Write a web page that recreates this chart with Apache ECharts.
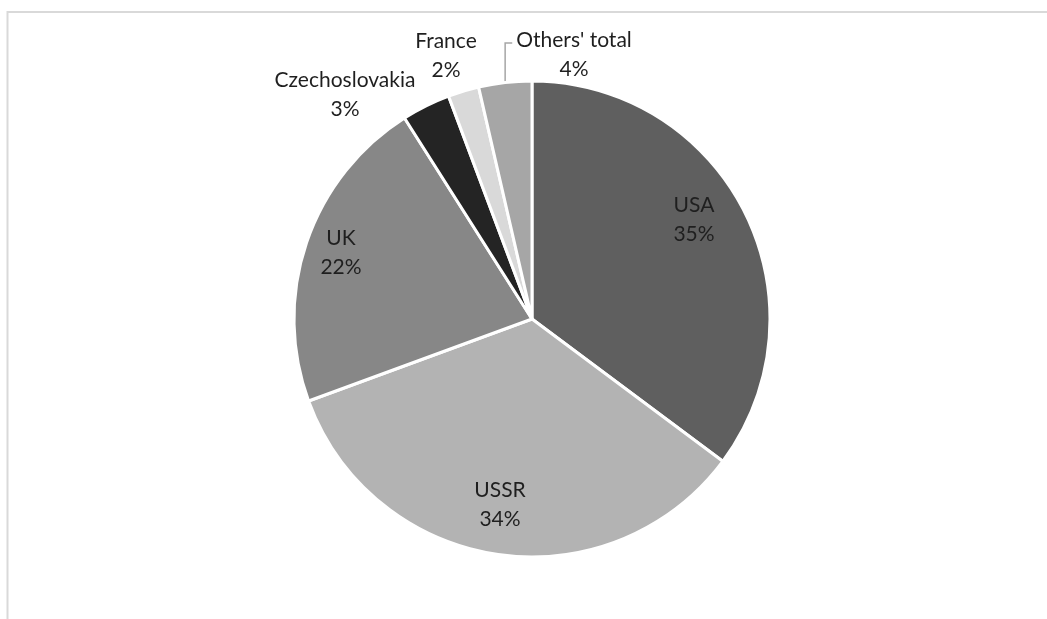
<!DOCTYPE html>
<html>
<head>
<meta charset="utf-8">
<script src="https://cdn.jsdelivr.net/npm/echarts@6/dist/echarts.min.js"></script>
<style>
  html, body { margin: 0; padding: 0; background: #ffffff; }
  #chart { width: 1047px; height: 619px; }
</style>
</head>
<body>
<div id="chart"></div>
<script>
// Shares by country, percent, clockwise from 12 o'clock
const countries = ['USA', 'USSR', 'UK', 'Czechoslovakia', 'France', "Others' total"];
const shares = [35.2, 34.2, 21.6, 3.3, 2.1, 3.6];
const sliceColors = ['#5f5f5f', '#b3b3b3', '#878787', '#242424', '#d9d9d9', '#a6a6a6'];

// Label block centres (pixels) for each slice
const labelCentres = [[694, 220], [500, 505], [341, 253], [345, 95], [446, 56], [574, 55]];

const chart = echarts.init(document.getElementById('chart'), null, { renderer: 'canvas' });

const data = countries.map((name, i) => ({
  name: name,
  value: shares[i],
  itemStyle: { color: sliceColors[i] },
  label: {
    position: i >= 3 ? 'outside' : 'inside'
  },
  labelLine: { show: i === 5 }
}));

chart.setOption({
  animation: false,
  backgroundColor: '#ffffff',
  graphic: [{
    type: 'rect',
    shape: { x: 7.5, y: 12, width: 1200, height: 800 },
    style: { fill: 'none', stroke: '#d9d9d9', lineWidth: 2 },
    silent: true,
    z: -10
  }],
  series: [{
    type: 'pie',
    center: [532, 319],
    radius: [0, 238],
    startAngle: 90,
    clockwise: true,
    avoidLabelOverlap: false,
    itemStyle: { borderColor: '#ffffff', borderWidth: 3 },
    label: {
      show: true,
      formatter: p => p.name + '\n' + Math.round(p.value) + '%',
      fontFamily: 'Lato',
      fontSize: 21,
      lineHeight: 29,
      color: '#1f1f1f',
      align: 'center'
    },
    labelLine: {
      lineStyle: { color: '#a6a6a6', width: 1.5 }
    },
    labelLayout: function (params) {
      const c = labelCentres[params.dataIndex];
      const out = {
        x: c[0],
        y: c[1],
        align: 'center',
        verticalAlign: 'middle'
      };
      if (params.dataIndex === 5 && params.labelLinePoints) {
        // leader: straight up from the rim, then across to the label
        const rim = params.labelLinePoints[0];
        const textLeft = c[0] - params.labelRect.width / 2 - 4;
        const lineY = c[1] - 12;
        out.labelLinePoints = [[rim[0], rim[1]], [rim[0], lineY], [textLeft, lineY]];
      }
      return out;
    },
    data: data
  }]
});
</script>
</body>
</html>
